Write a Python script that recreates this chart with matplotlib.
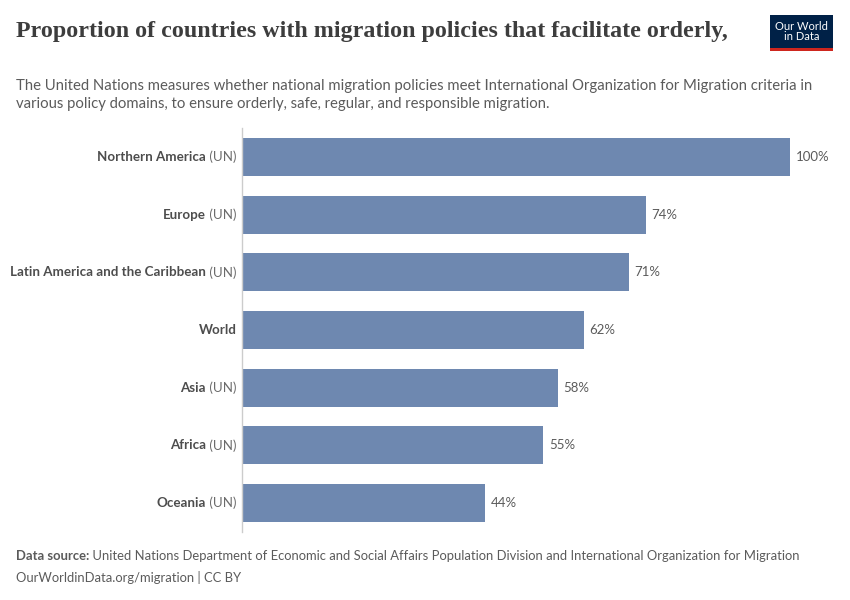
import matplotlib
matplotlib.use("Agg")
import matplotlib.pyplot as plt
from matplotlib.patches import Rectangle
from matplotlib.text import Annotation

names = ["Northern America", "Europe", "Latin America and the Caribbean", "World", "Asia", "Africa", "Oceania"]
suffixes = [" (UN)", " (UN)", " (UN)", "", " (UN)", " (UN)", " (UN)"]
values = [100, 73.7, 70.6, 62.4, 57.6, 55.0, 44.4]

BAR = "#6e88b0"
DARK = "#4d4d4d"
GREY = "#5b5b5b"

fig = plt.figure(figsize=(8.5, 6), dpi=100)
fig.patch.set_facecolor("white")

ax = fig.add_axes([242/850, 1-532/600, (790-242)/850, (532-128)/600])
ypos = list(range(len(values)))
ax.barh(ypos, values, height=0.66, color=BAR)
ax.set_xlim(0, 100)
ax.set_ylim(len(values)-0.5, -0.5)
ax.set_xticks([])
ax.set_yticks([])
for s in ["top", "right", "bottom"]:
    ax.spines[s].set_visible(False)
ax.spines["left"].set_color("#cccccc")
ax.spines["left"].set_linewidth(1)

for y, v in zip(ypos, values):
    ax.annotate(f"{round(v)}%", xy=(v, y), xytext=(4, 0), textcoords="offset points",
                ha="left", va="center", fontsize=9.5, color=GREY, family="Lato")

for y, n, sfx in zip(ypos, names, suffixes):
    if sfx:
        t = ax.annotate(sfx, xy=(0, y), xytext=(-4, 0), textcoords="offset points",
                        ha="right", va="center", fontsize=9.6, color="#6b6b6b", family="Lato",
                        annotation_clip=False)
        ax.annotate(n, xy=(0, 0.5), xycoords=t, ha="right", va="center",
                    fontsize=9.6, color=DARK, family="Lato", fontweight="bold")
    else:
        ax.annotate(n, xy=(0, y), xytext=(-4, 0), textcoords="offset points",
                    ha="right", va="center", fontsize=9.6, color=DARK, family="Lato",
                    fontweight="bold", annotation_clip=False)

# Title
fig.text(16/850, 1-32/600, "Proportion of countries with migration policies that facilitate orderly,",
         fontsize=17.3, family="Liberation Serif", fontweight="bold", color="#3d3d3d",
         va="center", ha="left")

# Subtitle
fig.text(16/850, 1-86/600, "The United Nations measures whether national migration policies meet International Organization for Migration criteria in",
         fontsize=10.7, family="Lato", color=GREY, va="center", ha="left")
fig.text(16/850, 1-104/600, "various policy domains, to ensure orderly, safe, regular, and responsible migration.",
         fontsize=10.7, family="Lato", color=GREY, va="center", ha="left")

# Footer
FS = 9.33
t1 = fig.text(16/850, 1-556/600, "Data source:", fontsize=FS, family="Lato", fontweight="bold",
              color=GREY, va="center", ha="left")
fig.add_artist(Annotation(" United Nations Department of Economic and Social Affairs Population Division and International Organization for Migration",
                          xy=(1, 0.5), xycoords=t1, ha="left", va="center",
                          fontsize=FS, family="Lato", color=GREY))
fig.text(16/850, 1-577/600, "OurWorldinData.org/migration | CC BY", fontsize=FS, family="Lato",
         color=GREY, va="center", ha="left")

# Logo
fig.patches.append(Rectangle((770/850, 1-48/600), 63/850, 33/600, transform=fig.transFigure,
                             facecolor="#002147", edgecolor="none", figure=fig))
fig.patches.append(Rectangle((770/850, 1-51/600), 63/850, 3/600, transform=fig.transFigure,
                             facecolor="#ce261e", edgecolor="none", figure=fig))
fig.text(801.5/850, 1-31.5/600, "Our World\nin Data", fontsize=8, family="Lato", color="white",
         ha="center", va="center", linespacing=1.0)

fig.savefig("out.png", dpi=100, facecolor="white")
